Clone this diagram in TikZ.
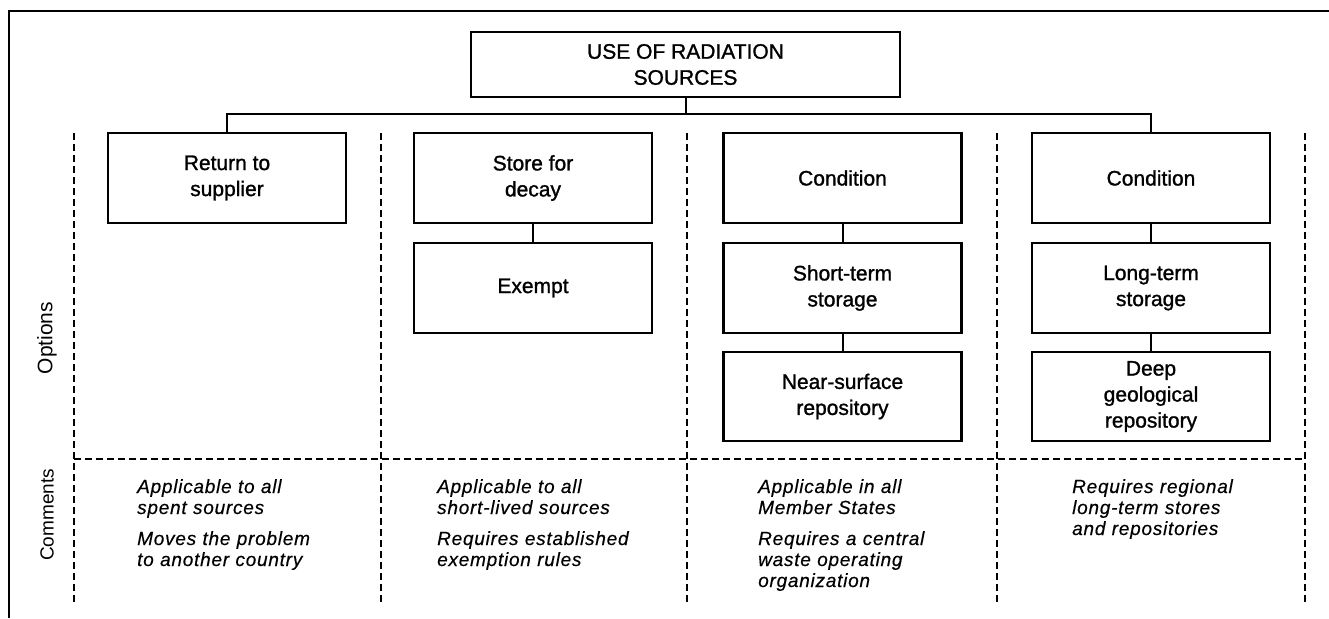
\documentclass[tikz,border=0pt]{standalone}
\usepackage{fontspec}
\setmainfont{Liberation Sans}
\newfontfamily\cmtfont[LetterSpace=4,FakeBold=0.4]{Liberation Sans}
\newfontfamily\boxfont[FakeBold=1.2]{Liberation Sans}
\begin{document}
\begin{tikzpicture}[x=1pt,y=-1pt,
  box/.style={draw,line width=2.2pt,minimum width=238pt,minimum height=90pt,inner sep=0pt,outer sep=0pt,align=center,font=\boxfont\fontsize{21}{26}\selectfont},
  link/.style={line width=2pt},
  sep/.style={line width=1.4pt,dash pattern=on 7pt off 4pt},
  cmt/.style={anchor=base west,inner sep=0pt,text width=280pt,align=left,font=\cmtfont\itshape\fontsize{19}{21}\selectfont},
  side/.style={rotate=90,inner sep=0pt,font=\fontsize{21}{24}\selectfont}]
\useasboundingbox (0,0) rectangle (1329,618);
% frame (top and left edges)
\draw[line width=2pt] (9,618) -- (9,11) -- (1329,11);
% boxes
\node[box,minimum width=429pt,minimum height=65pt] (top) at (685.5,64.5) {USE OF RADIATION\\SOURCES};
\node[box] (b1) at (227,178) {Return to\\supplier};
\node[box] (b2) at (533,178) {Store for\\decay};
\node[box] (b3) at (842.5,178) {Condition};
\node[box] (b4) at (1151,178) {Condition};
\node[box] (ex) at (533,288) {Exempt};
\node[box] (st) at (842.5,288) {Short-term\\storage};
\node[box] (lt) at (1151,288) {Long-term\\storage};
\node[box,minimum height=89pt] (ns) at (842.5,396.5) {Near-surface\\repository};
\node[box,minimum height=89pt] (dg) at (1151,396.5) {Deep\\geological\\repository};
% connectors
\coordinate (hub) at (685.5,114);
\draw[link] (top.south) -- (hub);
\draw[link] (b1.north) |- (hub) -| (b4.north);
\draw[link] (b2.south) -- (ex.north);
\draw[link] (b3.south) -- (st.north);
\draw[link] (st.south) -- (ns.north);
\draw[link] (b4.south) -- (lt.north);
\draw[link] (lt.south) -- (dg.north);
% dashed separators
\foreach \i/\x in {1/74,2/381,3/687,4/997,5/1305}{
  \coordinate (t\i) at (\x,133);
  \coordinate (u\i) at (\x,602);
  \draw[sep] (t\i) -- (u\i);
}
\coordinate (hl) at (74,459);
\coordinate (hr) at (1305,459);
\draw[sep] (hl) -- (hr);
% side labels
\node[side] (opt) at (47,338) {Options};
\node[side,font=\fontsize{19}{22}\selectfont] (com) at (47,515) {Comments};
% comments
\node[cmt] (c1) at (137,493) {Applicable to all\\spent sources\\[10pt]Moves the problem\\to another country};
\node[cmt] (c2) at (437,493) {Applicable to all\\short-lived sources\\[10pt]Requires established\\exemption rules};
\node[cmt] (c3) at (758,493) {Applicable in all\\Member States\\[10pt]Requires a central\\waste operating\\organization};
\node[cmt] (c4) at (1072,493) {Requires regional\\long-term stores\\and repositories};
\end{tikzpicture}
\end{document}
